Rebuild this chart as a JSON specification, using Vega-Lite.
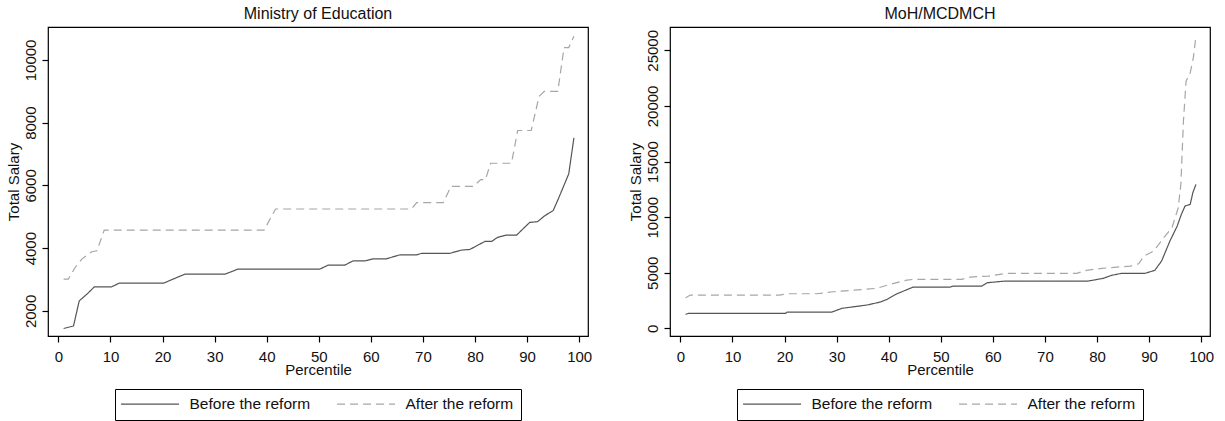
{
  "$schema": "https://vega.github.io/schema/vega-lite/v6.json",
  "padding": {"left": 5, "top": 5, "right": 5, "bottom": 2},
  "background": "white",
  "datasets": {
    "edu": [
      {"p":1,"salary":1440,"series":"Before the reform"},{"p":2.9,"salary":1520,"series":"Before the reform"},{"p":4,"salary":2320,"series":"Before the reform"},{"p":5.6,"salary":2553,"series":"Before the reform"},{"p":6.9,"salary":2767,"series":"Before the reform"},{"p":10.2,"salary":2767,"series":"Before the reform"},{"p":11.7,"salary":2885,"series":"Before the reform"},{"p":20.2,"salary":2885,"series":"Before the reform"},{"p":22,"salary":3012,"series":"Before the reform"},{"p":24.3,"salary":3172,"series":"Before the reform"},{"p":32,"salary":3172,"series":"Before the reform"},{"p":34.5,"salary":3332,"series":"Before the reform"},{"p":50.2,"salary":3332,"series":"Before the reform"},{"p":51.8,"salary":3460,"series":"Before the reform"},{"p":55,"salary":3460,"series":"Before the reform"},{"p":56.6,"salary":3597,"series":"Before the reform"},{"p":58.9,"salary":3597,"series":"Before the reform"},{"p":60.5,"salary":3661,"series":"Before the reform"},{"p":63,"salary":3661,"series":"Before the reform"},{"p":65.6,"salary":3789,"series":"Before the reform"},{"p":68.8,"salary":3789,"series":"Before the reform"},{"p":69.7,"salary":3831,"series":"Before the reform"},{"p":75.1,"salary":3831,"series":"Before the reform"},{"p":77.4,"salary":3939,"series":"Before the reform"},{"p":79,"salary":3958,"series":"Before the reform"},{"p":81.9,"salary":4214,"series":"Before the reform"},{"p":83.2,"salary":4214,"series":"Before the reform"},{"p":84.3,"salary":4342,"series":"Before the reform"},{"p":86,"salary":4418,"series":"Before the reform"},{"p":88,"salary":4418,"series":"Before the reform"},{"p":90.5,"salary":4821,"series":"Before the reform"},{"p":92,"salary":4843,"series":"Before the reform"},{"p":93.4,"salary":5035,"series":"Before the reform"},{"p":95,"salary":5195,"series":"Before the reform"},{"p":96,"salary":5570,"series":"Before the reform"},{"p":98,"salary":6368,"series":"Before the reform"},{"p":99,"salary":7518,"series":"Before the reform"},
      {"p":1,"salary":3013,"series":"After the reform"},{"p":1.9,"salary":3013,"series":"After the reform"},{"p":3.2,"salary":3384,"series":"After the reform"},{"p":4.5,"salary":3652,"series":"After the reform"},{"p":6.4,"salary":3885,"series":"After the reform"},{"p":7.4,"salary":3917,"series":"After the reform"},{"p":8.8,"salary":4578,"series":"After the reform"},{"p":39.5,"salary":4578,"series":"After the reform"},{"p":41.7,"salary":5249,"series":"After the reform"},{"p":67.8,"salary":5249,"series":"After the reform"},{"p":68.8,"salary":5451,"series":"After the reform"},{"p":73.9,"salary":5451,"series":"After the reform"},{"p":75.4,"salary":5971,"series":"After the reform"},{"p":79.7,"salary":5971,"series":"After the reform"},{"p":81.1,"salary":6185,"series":"After the reform"},{"p":82,"salary":6185,"series":"After the reform"},{"p":83,"salary":6706,"series":"After the reform"},{"p":87,"salary":6706,"series":"After the reform"},{"p":88.2,"salary":7751,"series":"After the reform"},{"p":90.8,"salary":7751,"series":"After the reform"},{"p":92.3,"salary":8837,"series":"After the reform"},{"p":93.3,"salary":8997,"series":"After the reform"},{"p":95.9,"salary":8997,"series":"After the reform"},{"p":97.1,"salary":10394,"series":"After the reform"},{"p":98,"salary":10394,"series":"After the reform"},{"p":99,"salary":10754,"series":"After the reform"}
    ],
    "moh": [
      {"p":1,"salary":1259,"series":"Before the reform"},{"p":1.6,"salary":1348,"series":"Before the reform"},{"p":20.2,"salary":1348,"series":"Before the reform"},{"p":20.5,"salary":1465,"series":"Before the reform"},{"p":29.1,"salary":1465,"series":"Before the reform"},{"p":31,"salary":1798,"series":"Before the reform"},{"p":35.8,"salary":2095,"series":"Before the reform"},{"p":38.4,"salary":2364,"series":"Before the reform"},{"p":39.7,"salary":2607,"series":"Before the reform"},{"p":41.6,"salary":3111,"series":"Before the reform"},{"p":43.2,"salary":3416,"series":"Before the reform"},{"p":44.7,"salary":3713,"series":"Before the reform"},{"p":51.8,"salary":3713,"series":"Before the reform"},{"p":52.4,"salary":3803,"series":"Before the reform"},{"p":57.9,"salary":3803,"series":"Before the reform"},{"p":58.9,"salary":4100,"series":"Before the reform"},{"p":62.4,"salary":4252,"series":"Before the reform"},{"p":78.3,"salary":4252,"series":"Before the reform"},{"p":81.2,"salary":4495,"series":"Before the reform"},{"p":82.8,"salary":4765,"series":"Before the reform"},{"p":84.7,"salary":4944,"series":"Before the reform"},{"p":89.2,"salary":4944,"series":"Before the reform"},{"p":91.1,"salary":5214,"series":"Before the reform"},{"p":92.4,"salary":6050,"series":"Before the reform"},{"p":94,"salary":7848,"series":"Before the reform"},{"p":95.4,"salary":9197,"series":"Before the reform"},{"p":96.2,"salary":10249,"series":"Before the reform"},{"p":96.9,"salary":10995,"series":"Before the reform"},{"p":97.9,"salary":11147,"series":"Before the reform"},{"p":98.4,"salary":12191,"series":"Before the reform"},{"p":99,"salary":12946,"series":"Before the reform"},
      {"p":1,"salary":2751,"series":"After the reform"},{"p":1.9,"salary":2994,"series":"After the reform"},{"p":19,"salary":2994,"series":"After the reform"},{"p":20.5,"salary":3111,"series":"After the reform"},{"p":26.2,"salary":3111,"series":"After the reform"},{"p":29.4,"salary":3290,"series":"After the reform"},{"p":37.7,"salary":3596,"series":"After the reform"},{"p":40.3,"salary":3956,"series":"After the reform"},{"p":43.5,"salary":4342,"series":"After the reform"},{"p":44.8,"salary":4405,"series":"After the reform"},{"p":54,"salary":4405,"series":"After the reform"},{"p":55.7,"salary":4612,"series":"After the reform"},{"p":59.2,"salary":4702,"series":"After the reform"},{"p":62.7,"salary":4944,"series":"After the reform"},{"p":76.1,"salary":4944,"series":"After the reform"},{"p":78,"salary":5214,"series":"After the reform"},{"p":80.9,"salary":5394,"series":"After the reform"},{"p":86.4,"salary":5600,"series":"After the reform"},{"p":88,"salary":5807,"series":"After the reform"},{"p":89,"salary":6500,"series":"After the reform"},{"p":90.9,"salary":6949,"series":"After the reform"},{"p":92.8,"salary":8145,"series":"After the reform"},{"p":94.4,"salary":9044,"series":"After the reform"},{"p":95.6,"salary":10842,"series":"After the reform"},{"p":96.1,"salary":12946,"series":"After the reform"},{"p":96.6,"salary":18636,"series":"After the reform"},{"p":97.1,"salary":22232,"series":"After the reform"},{"p":97.9,"salary":22978,"series":"After the reform"},{"p":98.5,"salary":24327,"series":"After the reform"},{"p":99,"salary":26278,"series":"After the reform"}
    ]
  },
  "spacing": 34,
  "hconcat": [
    {
      "width": 540,
      "height": 309,
      "data": {"name": "edu"},
      "title": {"text": "Ministry of Education"},
      "mark": {"type": "line", "strokeWidth": 1.2},
      "encoding": {
        "x": {"field": "p", "type": "quantitative", "scale": {"domain": [-2, 101.7], "nice": false, "zero": false}, "axis": {"values": [0,10,20,30,40,50,60,70,80,90,100], "title": "Percentile"}},
        "y": {"field": "salary", "type": "quantitative", "scale": {"domain": [1200, 11050], "nice": false, "zero": false}, "axis": {"values": [2000,4000,6000,8000,10000], "title": "Total Salary", "format": "d"}},
        "color": {"field": "series", "type": "nominal", "sort": null, "scale": {"domain": ["Before the reform", "After the reform"], "range": ["#555555", "#a6a6a6"]}, "legend": {"orient": "none", "legendX": 67, "legendY": 362, "direction": "horizontal", "title": null}},
        "strokeDash": {"field": "series", "type": "nominal", "sort": null, "scale": {"domain": ["Before the reform", "After the reform"], "range": [[1, 0], [8, 5]]}, "legend": {"orient": "none", "legendX": 67, "legendY": 362, "direction": "horizontal", "title": null}}
      }
    },
    {
      "width": 540,
      "height": 309,
      "data": {"name": "moh"},
      "title": {"text": "MoH/MCDMCH"},
      "mark": {"type": "line", "strokeWidth": 1.2},
      "encoding": {
        "x": {"field": "p", "type": "quantitative", "scale": {"domain": [-2, 101.7], "nice": false, "zero": false}, "axis": {"values": [0,10,20,30,40,50,60,70,80,90,100], "title": "Percentile"}},
        "y": {"field": "salary", "type": "quantitative", "scale": {"domain": [-690, 27100], "nice": false, "zero": false}, "axis": {"values": [0,5000,10000,15000,20000,25000], "title": "Total Salary", "format": "d"}},
        "color": {"field": "series", "type": "nominal", "sort": null, "scale": {"domain": ["Before the reform", "After the reform"], "range": ["#555555", "#a6a6a6"]}, "legend": {"orient": "none", "legendX": 67, "legendY": 362, "direction": "horizontal", "title": null}},
        "strokeDash": {"field": "series", "type": "nominal", "sort": null, "scale": {"domain": ["Before the reform", "After the reform"], "range": [[1, 0], [8, 5]]}, "legend": {"orient": "none", "legendX": 67, "legendY": 362, "direction": "horizontal", "title": null}}
      }
    }
  ],
  "resolve": {
    "scale": {"color": "independent", "strokeDash": "independent", "x": "independent", "y": "independent"},
    "legend": {"color": "independent", "strokeDash": "independent"}
  },
  "config": {
    "font": "Liberation Sans",
    "view": {"stroke": "#000000", "strokeWidth": 1.2},
    "title": {"font": "Liberation Sans", "fontSize": 16, "fontWeight": "normal", "color": "#111111", "offset": 5, "anchor": "middle"},
    "axis": {
      "domain": false,
      "grid": false,
      "labelFont": "Liberation Sans",
      "labelFontSize": 15,
      "labelColor": "#111111",
      "tickColor": "#000000",
      "tickSize": 6,
      "tickWidth": 1.2,
      "titleFont": "Liberation Sans",
      "titleFontSize": 15,
      "titleFontWeight": "normal",
      "titleColor": "#111111"
    },
    "axisX": {"labelPadding": 7, "titlePadding": -2},
    "axisY": {"labelAngle": -90, "labelPadding": 4, "titlePadding": 2},
    "legend": {
      "symbolType": "M-3,0H17",
      "symbolSize": 33.64,
      "symbolStrokeWidth": 1.2,
      "symbolFillColor": "transparent",
      "labelFont": "Liberation Sans",
      "labelFontSize": 15.5,
      "labelColor": "#111111",
      "labelOffset": 52,
      "columnPadding": 23,
      "padding": 7,
      "strokeColor": "#000000",
      "fillColor": "#ffffff"
    }
  }
}
